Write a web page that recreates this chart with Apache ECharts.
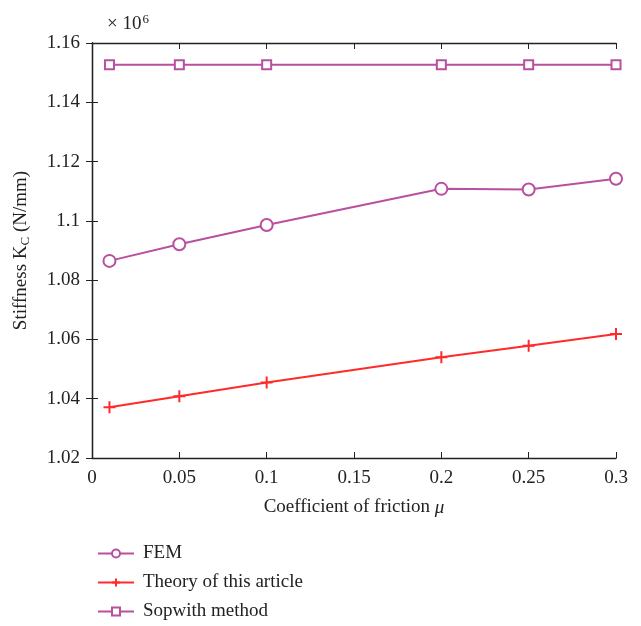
<!DOCTYPE html>
<html>
<head>
<meta charset="utf-8">
<script src="https://cdn.jsdelivr.net/npm/echarts@6/dist/echarts.min.js"></script>
<style>
  html, body { margin: 0; padding: 0; background: #fff; }
  #main { width: 641px; height: 626px; }
</style>
</head>
<body>
<div id="main"></div>
<script>
// friction coefficient values (x)
var mu = [0.01, 0.05, 0.1, 0.2, 0.25, 0.3];
// stiffness values, in units of 10^6 N/mm
var femValues = [1.0865, 1.0921, 1.0986, 1.1108, 1.1106, 1.1142];
var theoryValues = [1.0371, 1.0408, 1.0455, 1.0540, 1.0579, 1.0618];
var sopwithValues = [1.1527, 1.1527, 1.1527, 1.1527, 1.1527, 1.1527];
var seriesNames = ['FEM', 'Theory of this article', 'Sopwith method'];

var purple = '#b9509f';
var red = '#ff2a2a';
var font = 'Liberation Serif';

function pairs(xs, ys) {
    return xs.map(function (x, i) { return [x, ys[i]]; });
}

var myChart = echarts.init(document.getElementById('main'));

var option = {
    animation: false,
    textStyle: { fontFamily: font },
    title: {
        text: '× 10{sup|6}',
        left: 102,
        top: 8,
        textStyle: {
            fontFamily: font, fontSize: 19, fontWeight: 'normal', color: '#222',
            rich: { sup: { fontFamily: font, fontSize: 13, verticalAlign: 'top', padding: [0, 0, 9, 1], color: '#222' } }
        }
    },
    grid: { left: 92, right: 25, top: 43, bottom: 168 },
    legend: {
        orient: 'vertical',
        left: 92,
        top: 539,
        height: 100,
        itemWidth: 36,
        itemHeight: 10,
        itemGap: 10,
        data: seriesNames,
        textStyle: { fontFamily: font, fontSize: 19, color: '#222', padding: [0, 0, 0, 4] }
    },
    xAxis: [{
        type: 'value',
        min: 0, max: 0.3, interval: 0.05,
        name: 'Coefficient of friction {i|μ}',
        nameLocation: 'middle',
        nameGap: 40,
        nameTextStyle: {
            fontFamily: font, fontSize: 19, color: '#222',
            rich: { i: { fontFamily: font, fontStyle: 'italic', fontSize: 19, color: '#222' } }
        },
        axisLine: { lineStyle: { color: '#222', width: 1.3 } },
        axisTick: { inside: true, length: 6, lineStyle: { color: '#222' } },
        axisLabel: { fontFamily: font, fontSize: 19, color: '#222', margin: 11 },
        splitLine: { show: false }
    }, {
        type: 'value', position: 'top',
        min: 0, max: 0.3, interval: 0.05,
        axisLine: { show: true, lineStyle: { color: '#222', width: 1.3 } },
        axisTick: { inside: true, length: 6, lineStyle: { color: '#222' } },
        axisLabel: { show: false },
        splitLine: { show: false }
    }],
    yAxis: [{
        type: 'value',
        min: 1.02, max: 1.16, interval: 0.02,
        name: 'Stiffness K{sub|C} (N/mm)',
        nameLocation: 'middle',
        nameRotate: 90,
        nameGap: 60,
        nameTextStyle: {
            fontFamily: font, fontSize: 19, color: '#222',
            rich: { sub: { fontFamily: font, fontSize: 13, verticalAlign: 'bottom', padding: [8, 0, 0, 0], color: '#222' } }
        },
        axisLine: { show: true, lineStyle: { color: '#222', width: 1.3 } },
        axisTick: { inside: true, length: 6, lineStyle: { color: '#222' } },
        axisLabel: {
            fontFamily: font, fontSize: 19, color: '#222', margin: 12,
            formatter: function (v) { return parseFloat(v.toFixed(2)).toString(); }
        },
        splitLine: { show: false }
    }, {
        type: 'value', position: 'right',
        min: 1.02, max: 1.16, interval: 0.02,
        axisLine: { show: true, lineStyle: { color: '#222', width: 1.3 } },
        axisTick: { inside: true, length: 6, lineStyle: { color: '#222' } },
        axisLabel: { show: false },
        splitLine: { show: false }
    }],
    series: [{
        name: seriesNames[0],
        type: 'line',
        data: pairs(mu, femValues),
        symbol: 'circle',
        symbolSize: 12,
        color: purple,
        lineStyle: { color: purple, width: 2 },
        itemStyle: { color: '#fff', borderColor: purple, borderWidth: 2 }
    }, {
        name: seriesNames[1],
        type: 'line',
        data: pairs(mu, theoryValues),
        symbol: 'path://M5,0 L5,10 M0,5 L10,5',
        symbolSize: 12,
        color: red,
        lineStyle: { color: red, width: 2 },
        itemStyle: { color: 'none', borderColor: red, borderWidth: 2 }
    }, {
        name: seriesNames[2],
        type: 'line',
        data: pairs(mu, sopwithValues),
        symbol: 'rect',
        symbolSize: 9,
        color: purple,
        lineStyle: { color: purple, width: 2 },
        itemStyle: { color: '#fff', borderColor: purple, borderWidth: 2 }
    }]
};

myChart.setOption(option);
</script>
</body>
</html>
